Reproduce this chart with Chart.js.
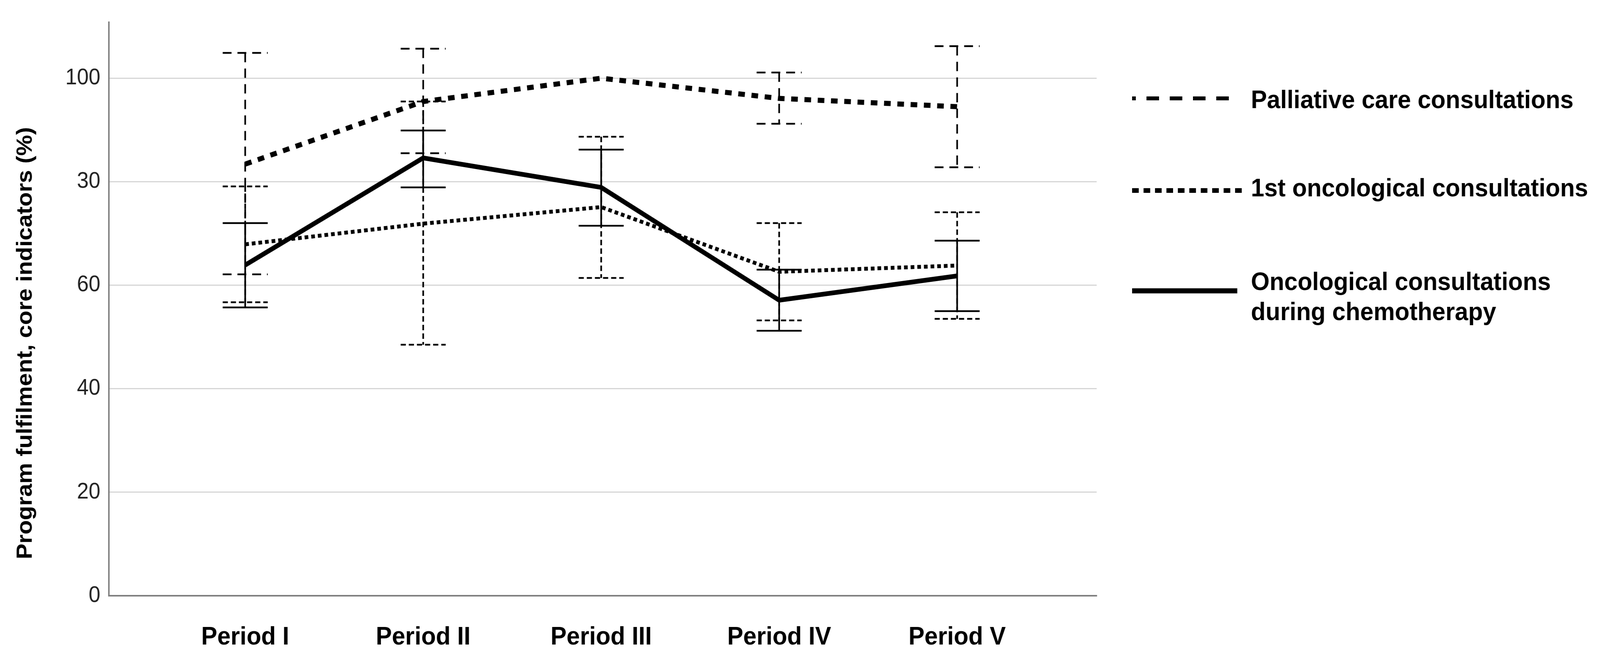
<!DOCTYPE html>
<html>
<head>
<meta charset="utf-8">
<script src="https://cdn.jsdelivr.net/npm/chart.js@4.4.1/dist/chart.umd.min.js"></script>
<style>
  html, body { margin: 0; padding: 0; background: #ffffff; overflow: hidden; }
  #wrap { width: 4336px; height: 1706px; transform-origin: 0 0; }
</style>
</head>
<body>
<div id="wrap"><canvas id="c" width="4336" height="1706"></canvas></div>
<script>
// ---------- data ----------
const categories = ['Period I', 'Period II', 'Period III', 'Period IV', 'Period V'];

const palliativeMean  = [83.4, 95.5, 100.0, 96.1, 94.5];
const palliativeLow   = [62.1, 85.5, 100.0, 91.2, 82.8];
const palliativeHigh  = [104.9, 105.7, 100.0, 101.1, 106.2];

const firstOncoMean   = [67.9, 71.9, 75.1, 62.6, 63.8];
const firstOncoLow    = [56.7, 48.5, 61.4, 53.2, 53.5];
const firstOncoHigh   = [79.1, 95.5, 88.7, 72.0, 74.1];

const chemoMean       = [63.9, 84.6, 78.9, 57.1, 61.8];
const chemoLow        = [55.7, 78.9, 71.5, 51.2, 55.0];
const chemoHigh       = [72.0, 89.9, 86.2, 63.0, 68.6];

const yTickValues = [0, 20, 40, 60, 80, 100];
const yTickLabels = ['0', '20', '40', '60', '30', '100'];

const seriesNames = ['Palliative care consultations', '1st oncological consultations', 'Oncological consultations|during chemotherapy'];
const yTitle = 'Program fulfilment, core indicators (%)';

// fit the 4336px-wide design into the actual viewport width
(function () {
  const s = Math.min(1, (window.innerWidth || 4336) / 4336);
  if (s < 1) document.getElementById('wrap').style.transform = 'scaleX(' + s + ')';
})();

// ---------- styles ----------
const FONT = "'Liberation Sans', Arial, sans-serif";
const styles = [
  { line: { width: 13, dash: [18, 18] }, err: { width: 4.5, dash: [24, 16] }, legend: { width: 10, dash: [34, 29], offset: 24, x2: 3333 } },
  { line: { width: 10, dash: [10, 8] },  err: { width: 4.5, dash: [14, 8] },  legend: { width: 12, dash: [18, 13], offset: 0, x2: 3377 } },
  { line: { width: 12, dash: [] },       err: { width: 4.5, dash: [] },       legend: { width: 13, dash: [], offset: 0, x2: 3353 } }
];
const errData = [
  { low: palliativeLow, high: palliativeHigh },
  { low: firstOncoLow,  high: firstOncoHigh },
  { low: chemoLow,      high: chemoHigh }
];
const means = [palliativeMean, firstOncoMean, chemoMean];

function toXY(arr) { return arr.map((v, i) => ({ x: i, y: v })); }

const errorBarPlugin = {
  id: 'errorBars',
  afterDatasetsDraw(chart) {
    const ctx = chart.ctx;
    const xs = chart.scales.x, ys = chart.scales.y;
    const capHalf = 61;
    errData.forEach((e, si) => {
      const st = styles[si].err;
      ctx.save();
      ctx.strokeStyle = '#000';
      ctx.lineWidth = st.width;
      ctx.setLineDash(st.dash);
      ctx.lineCap = 'butt';
      for (let i = 0; i < categories.length; i++) {
        if (e.low[i] === e.high[i]) continue;
        const px = xs.getPixelForValue(i);
        const pLo = ys.getPixelForValue(e.low[i]);
        const pHi = ys.getPixelForValue(e.high[i]);
        ctx.beginPath();
        ctx.moveTo(px, pHi); ctx.lineTo(px, pLo);
        ctx.stroke();
        ctx.beginPath();
        ctx.moveTo(px - capHalf, pHi); ctx.lineTo(px + capHalf, pHi);
        ctx.stroke();
        ctx.beginPath();
        ctx.moveTo(px - capHalf, pLo); ctx.lineTo(px + capHalf, pLo);
        ctx.stroke();
      }
      ctx.restore();
    });
  }
};

const decorPlugin = {
  id: 'decor',
  afterDraw(chart) {
    const ctx = chart.ctx;
    // y axis title
    ctx.save();
    ctx.fillStyle = '#000';
    ctx.font = 'bold 60px ' + FONT;
    ctx.translate(86, 879);
    ctx.rotate(-Math.PI / 2);
    ctx.textAlign = 'center';
    ctx.textBaseline = 'alphabetic';
    ctx.fillText(yTitle, 0, 0);
    ctx.restore();

    // legend
    const sampleY = [252, 488, 745];
    const textBase = [[277], [503], [743, 820]];
    ctx.save();
    for (let i = 0; i < seriesNames.length; i++) {
      const lg = styles[i].legend;
      ctx.strokeStyle = '#000';
      ctx.lineWidth = lg.width;
      ctx.setLineDash(lg.dash);
      ctx.lineDashOffset = lg.offset;
      ctx.beginPath();
      ctx.moveTo(3068, sampleY[i]);
      ctx.lineTo(lg.x2, sampleY[i]);
      ctx.stroke();
      ctx.setLineDash([]);
      ctx.fillStyle = '#000';
      ctx.font = 'bold 65px ' + FONT;
      ctx.textAlign = 'left';
      ctx.textBaseline = 'alphabetic';
      const parts = seriesNames[i].split('|');
      parts.forEach((t, k) => ctx.fillText(t, 3390, textBase[i][k]));
    }
    ctx.restore();
  }
};

const datasets = means.map((m, si) => ({
  label: seriesNames[si].replace('|', ' '),
  data: toXY(m),
  borderColor: '#000',
  backgroundColor: '#000',
  borderWidth: styles[si].line.width,
  borderDash: styles[si].line.dash,
  borderCapStyle: 'butt',
  borderJoinStyle: 'miter',
  pointRadius: 0,
  pointHoverRadius: 0,
  tension: 0,
  fill: false
}));

new Chart(document.getElementById('c'), {
  type: 'line',
  data: { datasets },
  plugins: [errorBarPlugin, decorPlugin],
  options: {
    responsive: false,
    animation: false,
    devicePixelRatio: 1,
    layout: { padding: { top: 50, right: 1364, left: 0, bottom: 0 } },
    plugins: { legend: { display: false }, tooltip: { enabled: false }, title: { display: false } },
    scales: {
      x: {
        type: 'linear',
        min: -0.766,
        max: 4.784,
        afterBuildTicks(scale) { scale.ticks = categories.map((c, i) => ({ value: i })); },
        afterFit(scale) { scale.height = 180; },
        grid: { display: false, drawTicks: false },
        border: { display: true, color: '#7f7f7f', width: 4 },
        ticks: {
          callback: (v) => categories[v] ?? '',
          font: { family: FONT, size: 65, weight: 'bold' },
          color: '#000',
          padding: 68,
          maxRotation: 0,
          autoSkip: false
        }
      },
      y: {
        type: 'linear',
        min: 0,
        max: 110.8,
        afterBuildTicks(scale) { scale.ticks = yTickValues.map(v => ({ value: v })); },
        afterFit(scale) { scale.width = 295; },
        grid: { color: '#d6d6d6', lineWidth: 3, drawTicks: false },
        border: { display: true, color: '#7f7f7f', width: 4 },
        ticks: {
          callback: (v) => { const k = yTickValues.indexOf(v); return k >= 0 ? yTickLabels[k] : ''; },
          font: { family: FONT, size: 57 },
          color: '#222',
          padding: 23,
          autoSkip: false
        }
      }
    }
  }
});
</script>
</body>
</html>
